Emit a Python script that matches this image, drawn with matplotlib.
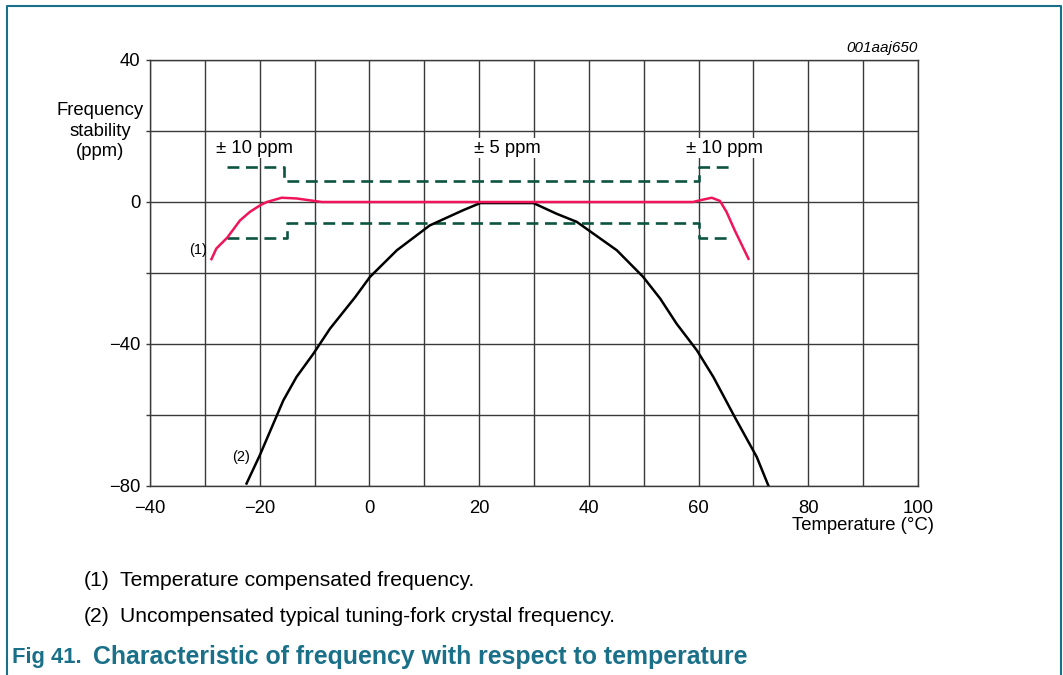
import numpy as np
import matplotlib.pyplot as plt
from matplotlib.lines import Line2D

plt.rcParams['font.family'] = ['Liberation Sans', 'DejaVu Sans']

# (1) temperature compensated frequency
comp_t = [-28.8, -27.9, -25.9, -23.6, -21.8, -19.9, -18.7, -16.0, -13.3, -8.7,
          59.0, 60.3, 62.4, 63.9, 65.1, 66.6, 69.1]
comp_f = [-16.1, -13.1, -10.0, -5.2, -2.8, -0.9, 0.0, 1.2, 1.0, 0.0,
          0.0, 0.5, 1.2, 0.3, -2.8, -8.0, -16.0]

# (2) uncompensated tuning-fork crystal
unc_t = [-22.4, -20.0, -15.7, -13.3, -10.2, -7.2, -2.6, 0.1, 5.0, 11.0, 17.1,
         20.2, 29.9, 34.1, 37.8, 45.1, 49.9, 53.0, 56.0, 59.7, 62.7, 64.5,
         66.6, 70.6, 72.7]
unc_f = [-79.3, -71.4, -55.9, -49.3, -42.7, -35.7, -26.8, -21.1, -13.6, -6.6,
         -2.3, -0.3, -0.3, -3.3, -5.6, -13.6, -21.1, -27.2, -34.3, -41.8,
         -49.3, -54.5, -60.6, -71.8, -79.8]

# tolerance band limits
upper_t = [-26, -15.5, -15.5, 60, 60, 65.7]
upper_f = [10, 10, 6, 6, 10, 10]
lower_t = [-26, -15, -15, 60, 60, 65.2]
lower_f = [-10, -10, -6, -6, -10, -10]

band_labels = ['\u00b1 10 ppm', '\u00b1 5 ppm', '\u00b1 10 ppm']
band_label_t = [-20.9, 25.1, 64.8]

teal = '#1a7089'
grid_c = '#3a3a3a'

fig = plt.figure(figsize=(10.63, 6.75), dpi=100)
ax = fig.add_axes([150 / 1063, 1 - 486 / 675, 768 / 1063, 426 / 675])

ax.set_xlim(-40, 100)
ax.set_ylim(-80, 40)
ax.set_xticks(np.arange(-40, 101, 20))
ax.set_xticks(np.arange(-40, 101, 10), minor=True)
ax.set_yticks([-80, -40, 0, 40])
ax.set_yticks(np.arange(-80, 41, 20), minor=True)
ax.set_yticklabels(['\u221280', '\u221240', '0', '40'])
ax.set_xticklabels(['\u221240', '\u221220', '0', '20', '40', '60', '80', '100'])
ax.grid(True, which='both', color=grid_c, lw=1.0)
ax.tick_params(axis='y', which='both', length=3, width=1, color=grid_c,
               labelsize=13.3, pad=4)
ax.tick_params(axis='x', which='both', length=0, labelsize=13.3, pad=10)
for s in ax.spines.values():
    s.set_color(grid_c)
    s.set_linewidth(1.0)
ax.set_axisbelow(True)

ax.plot(upper_t, upper_f, color='#0c5440', lw=1.9, ls=(0, (4.5, 2.5)))
ax.plot(lower_t, lower_f, color='#0c5440', lw=1.9, ls=(0, (4.5, 2.5)))
ax.plot(unc_t, unc_f, color='black', lw=1.8)
ax.plot(comp_t, comp_f, color='#f0145a', lw=1.8)

for lab, t in zip(band_labels, band_label_t):
    ax.text(t, 15.1, lab, ha='center', va='center', fontsize=13.3,
            bbox=dict(fc='white', ec='none', pad=1))

ax.text(-29.6, -13.6, '(1)', ha='right', va='center', fontsize=10.5)
ax.text(-21.8, -71.8, '(2)', ha='right', va='center', fontsize=10.5)

fig.text(934 / 1063, 1 - 525 / 675, 'Temperature (\u00b0C)', ha='right',
         va='center', fontsize=13.3)

fig.text(100 / 1063, 1 - 131 / 675, 'Frequency\nstability\n(ppm)',
         ha='center', va='center', fontsize=13.3, linespacing=1.3)
fig.text(918 / 1063, 1 - 48 / 675, '001aaj650', ha='right', va='center',
         fontsize=11, style='italic')

fig.text(84 / 1063, 1 - 580 / 675, '(1)', ha='left', va='center', fontsize=15.2)
fig.text(120 / 1063, 1 - 580 / 675, 'Temperature compensated frequency.',
         ha='left', va='center', fontsize=15.2)
fig.text(84 / 1063, 1 - 617 / 675, '(2)', ha='left', va='center', fontsize=15.2)
fig.text(120 / 1063, 1 - 617 / 675,
         'Uncompensated typical tuning-fork crystal frequency.',
         ha='left', va='center', fontsize=15.2)
fig.text(12 / 1063, 1 - 657 / 675, 'Fig 41.',
         ha='left', va='center', fontsize=15.8, fontweight='bold', color=teal)
fig.text(93 / 1063, 1 - 657 / 675,
         'Characteristic of frequency with respect to temperature',
         ha='left', va='center', fontsize=17.9, fontweight='bold', color=teal)

# page frame
fig.add_artist(Line2D([7 / 1063, 7 / 1063, 1061 / 1063, 1061 / 1063],
                      [0, 1 - 6 / 675, 1 - 6 / 675, 0],
                      transform=fig.transFigure, color=teal, lw=1.5))

fig.savefig('out.png', dpi=100)
